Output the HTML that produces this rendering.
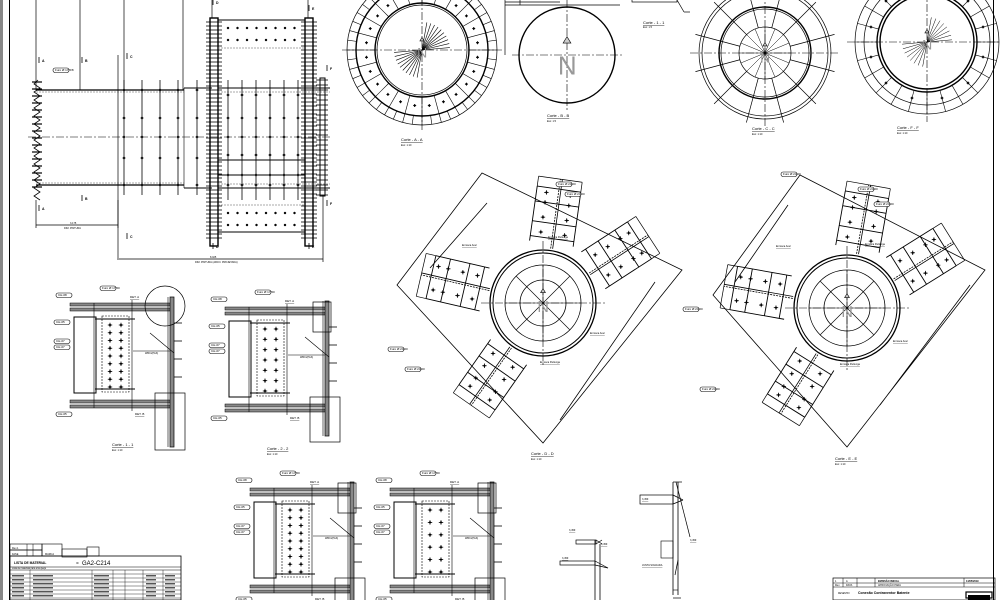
<!DOCTYPE html>
<html><head><meta charset="utf-8">
<style>
html,body{margin:0;padding:0;background:#fff;}
svg{display:block;font-family:"Liberation Sans",sans-serif;}
</style></head>
<body>
<svg id="s" width="1000" height="600" viewBox="0 0 1000 600" xmlns="http://www.w3.org/2000/svg">
<rect width="1000" height="600" fill="#fff"/>
<rect x="0" y="0" width="3" height="600" fill="#888"/>
<line x1="9.5" y1="0" x2="9.5" y2="600" stroke="#000" stroke-width="1"/>
<line x1="993.5" y1="0" x2="993.5" y2="600" stroke="#000" stroke-width="1"/>
<g id="g" fill="none" stroke="#000" stroke-width="0.7"></g>
<g id="t" font-size="4" fill="#000"></g>
</svg>
<script>
var G=document.getElementById('g'),T=document.getElementById('t'),NS="http://www.w3.org/2000/svg";
function el(n,a,p){var e=document.createElementNS(NS,n);for(var k in a)e.setAttribute(k,a[k]);(p||G).appendChild(e);return e;}
function L(x1,y1,x2,y2,w,c,d){var a={x1:x1,y1:y1,x2:x2,y2:y2};if(w)a['stroke-width']=w;if(c)a.stroke=c;if(d)a['stroke-dasharray']=d;return el('line',a);}
function R(x,y,w,h,sw,f,st){var a={x:x,y:y,width:w,height:h};if(sw)a['stroke-width']=sw;if(f)a.fill=f;if(st)a.stroke=st;return el('rect',a);}
function C(x,y,r,sw,d){var a={cx:x,cy:y,r:r};if(sw)a['stroke-width']=sw;if(d)a['stroke-dasharray']=d;return el('circle',a);}
function P(d,sw,f){var a={d:d};if(sw)a['stroke-width']=sw;if(f)a.fill=f;return el('path',a);}
function Tx(x,y,s,sz,b,u){var e=el('text',{x:x,y:y,'font-size':sz||4},T);if(b)e.setAttribute('font-weight','bold');if(u)e.setAttribute('text-decoration','underline');e.textContent=s;return e;}
function bolt(x,y,s){s=s||2.5;L(x-s,y,x+s,y,0.8);L(x,y-s,x,y+s,0.8);C(x,y,0.9,0.5).setAttribute('fill','#000');}
function tag(x,y,s){el('rect',{x:x,y:y-3,width:16,height:4.5,rx:2.2,'stroke-width':0.6,fill:'#fff'});Tx(x+2,y,s,3);}

/* ===== Left elevation ===== */
[36,80,124,183].forEach(function(x){L(x,0,x,90);});
L(212,0,212,18);L(308,0,308,18);
L(36,90,184,90,1.2);L(36,185,184,185,1.2);
L(118,55,118,258);
L(184,88,212,88,1);L(184,188,212,188,1);L(184,88,184,188,0.6);
L(36,92,184,92,0.6,'#555','2 1');L(36,183,184,183,0.6,'#555','2 1');
L(28,137,330,137,0.6,'#000','8 2 2 2');
var pts="M38,80";for(var y=80;y<=195;y+=8){pts+=" L34,"+(y+4)+" L40,"+(y+8);}P(pts,0.8);
for(var y=82;y<=192;y+=7){L(32,y,42,y,1.2);}
[124,142,160,178,197].forEach(function(x){L(x,80,x,195,0.8);[90,118,137,158,185].forEach(function(y){bolt(x,y,1.5);});});
R(210,18,8,228,1.4);R(305,18,8,228,1.4);
for(var y=22;y<240;y+=4){L(206,y,222,y,0.8);L(301,y,317,y,0.8);}
L(218,20,305,20,1);L(218,232,305,232,1);
[28,40,213,225].forEach(function(y){for(var x=228;x<=296;x+=9.5)C(x,y,1,0.5).setAttribute('fill','#000');});
L(218,48,305,48,0.6,'#555','2 1');L(218,160,305,160,1);L(218,175,305,175,1);L(218,205,305,205,0.6,'#555','2 1');
[228,242,256,270,284,298].forEach(function(x){L(x,80,x,200,0.8);[95,118,137,155,175,185].forEach(function(y){bolt(x,y,1.5);});});
L(218,88,330,88,1);L(218,188,330,188,1);L(218,92,330,92,0.6,'#555','2 1');L(218,184,330,184,0.6,'#555','2 1');
R(320,78,5,118,1);for(var y=80;y<196;y+=5)L(316,y,328,y,0.8);
L(36,225,118,225);L(36,200,36,228);L(118,200,118,228);
L(117,259,323,259);L(323,195,323,262);
Tx(70,224,"3.175",2.5);Tx(64,229,"DIM. PINTURA",2.5);Tx(210,258,"8.025",2.5);Tx(195,263,"DIM. PINTURA (ARCO. PROJETADA)",2.5);
tag(53,71,"Furo Ø 17,5/8");
[[42,62,"A"],[85,62,"B"],[130,58,"C"],[85,200,"B"],[42,210,"A"],[130,238,"C"],[216,4,"D"],[312,10,"E"],[216,248,"D"],[312,248,"E"],[330,70,"F"],[330,205,"F"]].forEach(function(a){Tx(a[0],a[1],a[2],3.5,1);L(a[0]-3,a[1]-5,a[0]-3,a[1]+1,0.8);});

/* ===== top circles ===== */
function ring(cx,cy,rs,w){rs.forEach(function(r,i){C(cx,cy,r,w&&w[i]?w[i]:0.7);});}
function spokes(cx,cy,r1,r2,n,a0,a1,sw){for(var i=0;i<n;i++){var a=(a0+(a1-a0)*i/(n-1||1))*Math.PI/180;L(cx+r1*Math.cos(a),cy+r1*Math.sin(a),cx+r2*Math.cos(a),cy+r2*Math.sin(a),sw||0.6);}}
function cross(cx,cy,r){L(cx-r,cy,cx+r,cy,0.6,'#000','8 2 2 2');L(cx,cy-r,cx,cy+r,0.6,'#000','8 2 2 2');}
function N(cx,cy,s){Tx(cx-s*0.35,cy+s*0.55,"N",s).setAttribute('fill','#999');P("M"+cx+","+(cy-s*0.9)+" l-"+s*0.15+","+s*0.25+" h"+s*0.3+" z",0.6,'#ccc');}
ring(422,50,[75,66,47,45],[0.7,1.4,1.4,0.7]);spokes(422,50,66,75,48,0,352.5,0.6);spokes(422,50,47,66,24,0,345,0.6);
for(var i=0;i<24;i++){var a=(i*15+7.5)*Math.PI/180;bolt(422+56*Math.cos(a),50+56*Math.sin(a),1.5);}
cross(422,50,80);spokes(422,50,0,28,10,-80,-5,0.6);spokes(422,50,0,28,10,100,175,0.6);N(422,50,14);
Tx(401,141,"Corte - A - A",4,0,1);Tx(401,146,"Esc: 1:10",2.5);
C(567,55,48,1.4);cross(567,55,55);L(505,0,505,55);L(520,0,520,5);L(505,5,620,5);L(505,2,560,2);N(567,60,26);
Tx(547,117,"Corte - B - B",4,0,1);Tx(547,122,"Esc: 1:5",2.5);
R(632,-1,45,3,0.7);L(677,0,684,12);L(684,12,690,12);Tx(643,24,"Corte - 1 - 1",4,0,1);Tx(643,28,"Esc: 1:5",2.5);
ring(765,53,[66,63,46,44,26],[0.7,0.7,1.4,0.7,0.7]);spokes(765,53,26,72,12,15,345,0.7);spokes(765,53,0,26,16,0,337.5,0.5);cross(765,53,75);N(765,55,14);
Tx(752,130,"Corte - C - C",4,0,1);Tx(752,135,"Esc: 1:10",2.5);
ring(927,42,[72,63,50,47],[0.7,0.7,1.4,1.4]);spokes(927,42,50,72,24,0,345,0.6);
for(var i=0;i<12;i++){var a=(i*30+15)*Math.PI/180;bolt(927+58*Math.cos(a),42+58*Math.sin(a),1.5);}
cross(927,42,80);spokes(927,42,0,25,8,-80,-5,0.5);spokes(927,42,0,25,8,100,175,0.5);N(927,42,14);
Tx(897,129,"Corte - F - F",4,0,1);Tx(897,134,"Esc: 1:10",2.5);

/* ===== D-D and E-E plan ===== */
function branch(cx,cy,ang){var a=ang*Math.PI/180,ux=Math.cos(a),uy=Math.sin(a),vx=-uy,vy=ux;
 function p(r,s){return [cx+ux*r+vx*s,cy+uy*r+vy*s];}
 function ln(r1,s1,r2,s2,w,d){var A=p(r1,s1),B=p(r2,s2);L(A[0],A[1],B[0],B[1],w||0.7,null,d);}
 ln(55,0,125,0,0.8,'2 1');ln(55,2,125,2,0.8);
 [[60,-22,115,-22],[60,22,115,22],[65,-22,65,22],[115,-22,115,22],[80,-22,80,22],[100,-22,100,22]].forEach(function(q){ln(q[0],q[1],q[2],q[3],0.9);});
 [[70,-12],[70,12],[85,-12],[85,12],[100,-12],[100,12],[110,-12],[110,12]].forEach(function(q){var b=p(q[0],q[1]);bolt(b[0],b[1],2.2);});
 ln(115,-22,125,-22);ln(115,22,125,22);ln(125,-22,125,22);}
function plan(cx,cy,outline,angs,title){
 P(outline,0.8);
 ring(cx,cy,[53,50,38,23],[1.3,1,0.8,0.8]);cross(cx,cy,62);
 for(var i=0;i<8;i++){var a=i*45*Math.PI/180;L(cx,cy,cx+38*Math.cos(a),cy+38*Math.sin(a),0.6);}
 N(cx,cy,16);angs.forEach(function(a){branch(cx,cy,a);});
 Tx(cx-12,cy+152,title,4,0,1);Tx(cx-12,cy+157,"Esc: 1:10",2.5);
}
plan(543,303,"M482,173 L682,270 L543,443 L397,285 Z M487,203 L430,268 M655,282 L560,420",[-82,-33,193,125],"Corte - D - D");
plan(847,308,"M800,175 L985,270 L847,447 L713,295 Z M788,205 L735,282 M970,285 L880,405",[-80,-32,190,122],"Corte - E - E");
[[556,185,"Furo Ø 24,00"],[565,195,"Furo Ø 24,00"],[388,350,"Furo Ø 24,00"],[405,370,"Furo Ø 24,00"],[858,190,"Furo Ø 24,00"],[874,205,"Furo Ø 24,00"],[683,310,"Furo Ø 24,00"],[700,390,"Furo Ø 24,00"],[781,175,"Furo Ø 24,00"]].forEach(function(a){tag(a[0],a[1],a[2]);});
[[462,246,"Enrosca Anel"],[548,238,"Enrosca Parlenga"],[590,334,"Enrosca Anel"],[540,363,"Enrosca Parlenga"],[776,247,"Enrosca Anel"],[865,245,"Enrosca Parlenga"],[893,342,"Enrosca Anel"],[840,365,"Enrosca Parlenga"]].forEach(function(a){Tx(a[0],a[1],a[2],2.5,0,1);});

/* ===== sections ===== */
function section(ox,oy,tall,cols,rows,title,det){
 var g='#888';
 R(ox,oy,100,3,0.5,g);R(ox,oy+5,100,3,0.5,g);
 R(ox,oy+97,100,3,0.5,g);R(ox,oy+102,100,3,0.5,g);
 R(ox+100,oy-6,4,tall,0.7,g);
 L(ox+98,oy-6,ox+98,oy-6+tall,0.6);
 R(ox+4,oy+14,22,76,1);
 R(ox+32,oy+13,27,76,0.6,null,null).setAttribute('stroke-dasharray','2 1');
 L(ox+25,oy+16,ox+65,oy+16,0.9);L(ox+25,oy+86,ox+65,oy+86,0.9);
 L(ox+24,oy,ox+24,oy+105,0.6);L(ox+62,oy-3,ox+62,oy+108,0.6);
 for(var i=0;i<rows;i++){var y=oy+22+i*(62/(rows-1));bolt(ox+40,y,2.2);bolt(ox+51,y,2.2);}
 L(ox+63,oy+48,ox+100,oy+48,0.6);
 if(det){C(ox+95,oy+3,20,0.7);}else{R(ox+88,oy-5,18,30,0.7);}
 R(ox+85,oy+90,30,det?57:45,0.7);
 for(var k=0;k<4;k++)L(ox+104,oy+20+k*18,ox+112,oy+20+k*18,0.8);
 L(ox+104,oy+50,ox+80,oy+30,0.6);
 Tx(ox+60,oy-5,"DET. A",3,0,1);Tx(ox+65,oy+112,"DET. B",3,0,1);
 tag(ox+30,oy-14,"Furo Ø 17,50");tag(ox-14,oy-7,"CH-08");tag(ox-16,oy+20,"CH-05");tag(ox-16,oy+39,"CH-07");tag(ox-16,oy+45,"CH-07");tag(ox-14,oy+112,"CH-05");
 Tx(ox+75,oy+51,"WRC2(5x3)",2.5);
 if(title){Tx(ox+42,oy+143,title,4,0,1);Tx(ox+42,oy+148,"Esc: 1:10",2.5);}
}
section(70,303,150,2,9,"Corte - 1 - 1",true);
section(225,307,135,2,7,"Corte - 2 - 2",false);
section(250,488,120,2,9,null,false);
section(390,488,120,2,6,null,false);

/* ===== details bottom middle ===== */
R(576,540,20,4,0.7);L(596,540,602,544);L(596,544,602,540);
L(595,540,595,600,0.8);L(600,544,600,600,0.8);R(560,561,35,4,0.7);L(595,561,608,568);L(595,565,608,568);
Tx(569,531,"3,459",2.5,0,1);Tx(562,559,"3,459",2.5,0,1);Tx(601,545,"3,459",2.5,0,1);
L(673,482,673,595,0.8);L(678,482,678,595,0.8);L(673,482,682,482);L(676,482,690,537);
R(640,495,33,9,0.7);L(673,495,683,500);L(673,504,683,500);
R(661,541,12,17,0.6);L(678,560,675,575);Tx(642,500,"3,459",2.5,0,1);Tx(690,541,"3,459",2.5,0,1);Tx(642,566,"JUNTA SOLDADA",2.5,0,1);
L(673,590,678,590,0.6);L(673,598,681,598);

/* ===== material list ===== */
R(10,544,32,6,0.6);R(10,550,32,6,0.6);R(42,544,20,12,0.6);R(62,549,25,8,0.6);R(87,547,12,9,0.6);
L(27,544,27,556,0.5);L(33,544,33,556,0.5);
Tx(12,549,"Rev.1",2.5);Tx(12,555,"FASE",2.5);Tx(45,555,"MARCA",2.5);
R(10,556,171,44,0.8);Tx(14,564,"LISTA DE MATERIAL",3.3,1);Tx(82,565,"GA2-C214",6);Tx(76,564,"ID",2.5);
L(10,567,181,567,0.6);L(10,570,181,570,0.5);
for(var y=574;y<600;y+=4)L(10,y,181,y,0.4);
[30,92,113,125,143,163].forEach(function(x){L(x,570,x,600,0.4);});
for(var y=576;y<600;y+=4){R(12,y-1,12,1.5,0,'#555','none');R(33,y-1,20,1.5,0,'#555','none');R(94,y-1,15,1.5,0,'#555','none');R(146,y-1,10,1.5,0,'#555','none');R(165,y-1,10,1.5,0,'#555','none');}
Tx(12,569,"Lista de materiais para uma peça",2.3);

/* ===== title block ===== */
R(833,578,162,22,0.7);L(833,583,995,583,0.5);L(833,587,995,587,0.5);
[843,857,875,964].forEach(function(x){L(x,578,x,587,0.5);});
Tx(835,582,"1",2.5);Tx(846,582,"A",2.5);Tx(878,582,"EMISSÃO INICIAL",2.5,1);Tx(966,582,"14/05/2019",2.5,1);
Tx(835,586,"Rev.",2.5);Tx(846,586,"DATA",2.5);Tx(878,586,"APROVAÇÃO PARA",2.5);
Tx(838,594,"DESENHO:",2.3);Tx(858,594,"Conexão Contraventor Batente",3.5,1);
R(966,592,26,6,1.2);R(968,595,22,5,0,'#000','none');
</script>
</body></html>
